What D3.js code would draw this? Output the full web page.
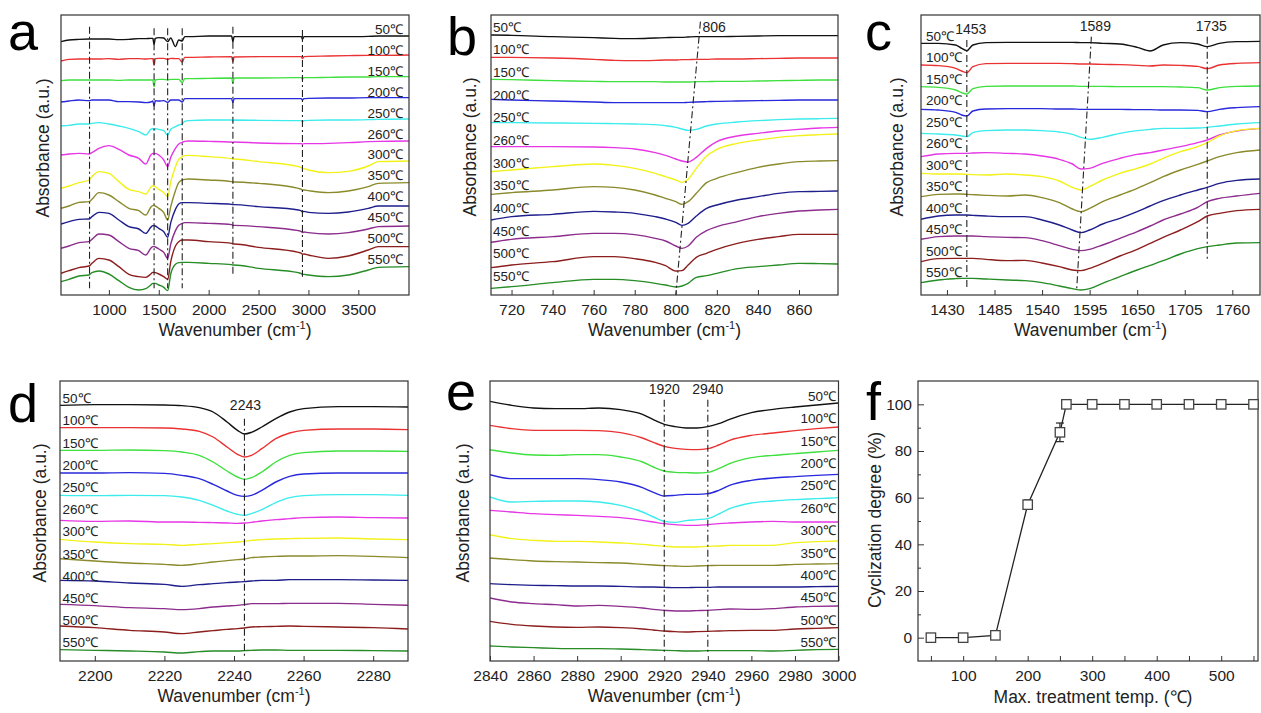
<!DOCTYPE html>
<html>
<head>
<meta charset="utf-8">
<script src="https://cdn.jsdelivr.net/npm/d3@7"></script>
<style>
  html, body { margin: 0; padding: 0; background: #fff; }
  svg { display: block; font-family: Arial, 'Liberation Sans', sans-serif; }
</style>
</head>
<body>
<svg id="chart" width="1261" height="713"></svg>
<script>
// ---- data ----
var temps = ['50℃', '100℃', '150℃', '200℃', '250℃', '260℃', '300℃', '350℃', '400℃', '450℃', '500℃', '550℃'];
var colors = ['#111111', '#ea3232', '#3ee03e', '#2828dc', '#3cecec', '#e636e6', '#f2f21a', '#8a8a2c', '#1e1e8c', '#8c2c8c', '#8c1e1e', '#268c26'];

// panel a : full spectra (absorbance, a.u., offset stacked)
var wnA = [520, 600, 700, 800, 830, 900, 1000, 1100, 1200, 1300, 1370, 1420, 1440, 1453, 1465, 1500, 1550, 1589, 1620, 1667, 1700, 1735, 1760, 1800, 2000, 2230, 2243, 2255, 2500, 2900, 2930, 2940, 2955, 3000, 3200, 3400, 3600, 3700, 4008];
var absA = [
  [775,780,782,783,783,783,783,781,782,784,784,785,785,767,785,787,786,775,786,760,780,777,790,790,792,792,775,790,790,790,790,782,790,790,790,790,791,792,792],
  [717,722,723,723,723,723,724,722,724,724,723,724,724,705,724,725,725,722,725,724,724,714,728,728,729,730,715,729,730,730,730,724,730,731,732,733,734,734,735],
  [658,660,660,660,660,660,660,659,660,660,660,660,660,640,660,662,662,660,662,662,662,652,664,664,665,666,650,666,666,667,667,662,667,667,668,669,669,670,670],
  [594,597,600,598,600,600,600,595,595,594,592,594,597,582,598,597,598,593,600,600,600,594,604,604,604,604,592,604,604,604,604,600,604,605,606,606,607,607,607],
  [522,524,528,528,530,532,528,522,515,505,495,512,515,508,514,512,508,495,512,520,525,528,536,538,540,540,536,540,539,538,538,534,538,539,540,540,541,542,543],
  [435,438,440,438,442,455,463,452,435,425,408,435,440,438,440,435,420,400,428,455,468,473,476,477,476,474,472,474,471,469,469,467,469,469,470,472,475,476,477],
  [335,342,352,360,370,385,380,355,332,325,318,338,342,342,340,332,322,310,355,400,422,430,433,434,430,424,422,423,415,400,397,394,394,390,382,386,402,415,417],
  [275,282,293,295,302,322,315,295,275,268,255,278,283,283,282,275,262,240,280,328,352,360,362,363,360,355,354,354,350,335,332,330,330,328,322,327,340,350,352],
  [228,235,242,243,250,263,260,240,220,213,200,218,223,223,222,215,205,188,232,272,288,292,292,292,290,287,286,286,280,270,267,264,266,263,260,264,275,282,282],
  [155,162,172,175,182,198,195,175,155,148,135,155,160,160,159,153,143,125,168,208,224,230,232,232,230,226,224,224,220,208,205,202,204,202,198,202,213,220,222],
  [80,88,97,102,110,125,120,100,77,70,68,78,83,83,82,78,70,62,115,162,175,180,180,180,175,170,168,168,158,143,140,137,138,135,125,132,150,160,160],
  [55,62,72,75,82,87,78,58,38,30,34,45,50,50,50,45,38,28,78,107,112,113,113,113,110,106,105,105,95,82,79,77,77,75,70,75,90,98,100]
];

// panel b : 710-879 cm-1
var wnB = [710, 720, 740, 760, 770, 780, 790, 795, 800, 803, 806, 810, 815, 820, 830, 840, 850, 860, 870, 879];
var absB = [
  [795,794,790,787,785,784,786,787,788,788,789,790,790,790,791,792,793,793,793,793],
  [728,728,726,722,719,718,719,720,720,721,721,722,722,723,723,724,725,726,726,726],
  [662,661,658,656,655,655,655,654,654,654,654,655,655,656,656,657,658,659,660,660],
  [602,600,597,594,592,592,592,592,592,592,593,594,595,596,597,598,599,600,600,600],
  [532,532,531,530,529,528,526,523,518,513,509,512,522,528,534,538,541,543,544,545],
  [460,460,460,459,457,453,442,434,423,417,414,428,455,475,492,500,507,512,516,518],
  [385,390,400,408,404,395,380,370,360,353,362,395,432,452,470,480,488,493,496,498],
  [317,322,330,340,338,330,315,305,295,287,295,320,352,365,383,398,408,415,417,418],
  [240,250,257,266,264,260,250,243,233,224,230,252,275,285,300,310,320,325,326,327],
  [173,182,190,200,200,196,185,177,162,155,162,188,208,220,235,250,260,267,270,272],
  [97,105,115,130,130,124,113,103,87,88,105,128,140,152,170,182,190,197,197,197],
  [35,40,52,62,62,58,50,45,39,42,50,68,73,80,94,100,105,110,109,108]
];

// panel c : 1400-1792 cm-1
var wnC = [1400, 1420, 1440, 1447, 1453, 1460, 1475, 1500, 1520, 1540, 1560, 1575, 1585, 1595, 1610, 1630, 1650, 1665, 1680, 1700, 1720, 1731, 1745, 1765, 1792];
var absC = [
  [770,770,765,755,748,765,772,773,773,773,773,773,772,772,770,768,758,747,765,772,768,760,770,775,776],
  [705,703,695,687,682,700,709,710,710,710,710,709,708,708,707,706,704,702,705,704,701,694,705,710,712],
  [640,638,630,622,618,634,641,642,642,642,642,642,641,641,641,640,640,640,640,639,637,630,637,641,642],
  [572,570,563,555,552,567,573,574,574,574,573,573,572,572,572,572,571,571,570,570,569,565,572,577,580],
  [500,498,495,492,490,502,508,510,510,508,504,497,488,482,488,500,508,512,515,515,516,518,522,528,532],
  [430,438,440,440,440,441,442,440,438,432,422,408,393,395,410,425,437,442,450,460,472,480,495,507,515],
  [380,378,378,378,377,376,375,378,375,370,357,338,330,340,360,380,395,408,425,445,460,472,492,508,515],
  [310,317,318,318,317,316,314,312,315,307,292,273,265,275,295,315,335,352,370,390,407,417,430,442,450],
  [242,252,255,255,255,254,252,250,250,240,225,210,202,210,228,245,265,282,298,315,330,338,350,359,363],
  [182,190,192,192,192,192,190,188,187,178,163,152,148,152,165,185,205,222,240,258,278,295,305,312,320],
  [115,124,125,125,125,125,122,118,119,111,100,90,88,95,110,132,152,170,188,210,235,252,260,268,272],
  [52,60,64,65,65,65,63,60,58,52,42,34,30,34,50,70,90,104,118,138,154,160,165,171,172]
];

// panel d : 2190-2290 cm-1
var wnD = [2190, 2200, 2210, 2220, 2225, 2230, 2234, 2238, 2241, 2243, 2245, 2248, 2252, 2256, 2260, 2270, 2280, 2290];
var absD = [
  [782,784,784,783,781,775,762,732,707,696,701,717,742,762,772,778,778,777],
  [715,715,715,714,711,704,687,657,635,627,632,652,682,699,707,711,711,709],
  [647,647,648,646,642,632,612,585,567,560,565,582,612,632,640,645,645,644],
  [579,579,580,578,572,562,545,525,512,509,512,527,552,569,576,579,579,579],
  [512,511,512,511,507,497,482,465,455,452,457,469,490,505,511,514,514,512],
  [437,434,435,432,432,431,430,429,428,429,431,435,439,442,445,447,445,444],
  [380,372,367,365,362,365,367,370,372,374,377,379,381,382,383,384,381,379],
  [322,315,309,305,302,307,312,316,319,321,325,327,329,330,330,331,329,325],
  [257,255,249,245,239,244,247,250,252,253,255,257,257,259,259,259,258,257],
  [185,181,175,172,169,172,177,180,182,184,187,187,187,188,188,188,185,182],
  [120,115,107,102,97,102,106,110,112,114,117,118,119,120,119,117,115,111],
  [49,47,45,42,39,43,45,45,45,46,47,48,48,47,47,47,46,45]
];

// panel e : 2840-3000 cm-1
var wnE = [2840, 2850, 2860, 2870, 2880, 2890, 2900, 2910, 2915, 2920, 2925, 2930, 2935, 2940, 2945, 2950, 2960, 2970, 2980, 2990, 3000];
var absE = [
  [794,782,774,772,772,774,769,755,739,725,718,714,714,718,727,740,760,770,777,783,789],
  [722,712,707,707,707,706,700,684,671,659,653,650,649,652,663,677,692,699,706,712,717],
  [649,639,633,632,634,634,627,612,597,585,581,580,579,581,592,607,625,632,637,642,647],
  [574,562,562,562,562,559,552,535,521,510,512,515,515,517,527,542,557,564,568,572,575],
  [507,492,494,495,495,492,482,462,447,434,431,436,439,442,456,472,489,495,499,502,505],
  [467,462,457,454,452,449,445,437,432,427,424,422,422,424,427,429,432,434,432,432,432],
  [394,382,377,374,374,372,369,365,362,359,357,357,357,359,360,362,362,362,370,373,375],
  [324,319,315,313,312,310,309,305,303,301,300,299,300,301,302,302,302,302,305,306,307],
  [247,244,242,241,240,240,239,237,237,236,235,235,236,236,237,237,237,237,237,238,239],
  [204,192,187,184,180,182,179,174,170,167,165,165,166,167,169,171,170,172,177,179,180],
  [134,125,120,117,116,117,115,111,108,105,103,102,103,104,105,106,107,107,111,113,115],
  [60,57,55,53,52,52,51,49,48,47,46,45,45,46,46,46,46,45,47,49,50]
];

// peak guide lines: [wavenumber at top, wavenumber at bottom, abs top, abs bottom, label]
var peaksA = [[806,806,820,35,''],[1453,1453,815,35,''],[1589,1589,815,35,''],[1735,1735,815,35,''],[2243,2243,820,70,''],[2940,2940,810,70,'']];
var peaksB = [[812,800,835,15,'806']];
var peaksC = [[1453,1453,780,30,'1453'],[1597,1580,790,30,'1589'],[1731,1731,790,120,'1735']];
var peaksD = [[2243,2243,742,22,'2243']];
var peaksE = [[2920,2920,799,42,'1920'],[2940,2940,799,42,'2940']];

// panel f : cyclization degree
var treatTemp = [50, 100, 150, 200, 250, 260, 300, 350, 400, 450, 500, 550];
var cycDegree = [0, 0, 1, 57, 88, 100, 100, 100, 100, 100, 100, 100];
var cycError = [0, 0, 0, 2, 4, 1, 0, 0, 0, 0, 0, 0];

// ---- drawing ----
var svg = d3.select('#chart');
var ink = '#333';

function xTitle(g, cx, y) {
  var t = g.append('text')
    .attr('x', cx).attr('y', y)
    .attr('text-anchor', 'middle')
    .attr('font-size', 17.5)
    .attr('fill', '#222');
  t.append('tspan').text('Wavenumber (cm');
  t.append('tspan').attr('dy', -7).attr('font-size', 11).text('-1');
  t.append('tspan').attr('dy', 7).text(')');
}

function yTitle(g, x, cy, label) {
  g.append('text')
    .attr('transform', 'translate(' + x + ',' + cy + ') rotate(-90)')
    .attr('text-anchor', 'middle')
    .attr('dy', '0.35em')
    .attr('font-size', 17.5)
    .attr('fill', '#222')
    .text(label);
}

function letter(g, ch, x, y) {
  g.append('text').attr('x', x).attr('y', y)
    .attr('font-size', 54).attr('fill', '#000')
    .text(ch);
}

function drawSpectra(p, idx) {
  var x = d3.scaleLinear().domain(p.xDomain).range([p.left, p.right]);
  var y = d3.scaleLinear().domain([15, 855]).range([p.bottom, p.top]);
  var g = svg.append('g');

  g.append('clipPath').attr('id', 'clip' + idx)
    .append('rect')
    .attr('x', p.left).attr('y', p.top)
    .attr('width', p.right - p.left).attr('height', p.bottom - p.top);

  var line = d3.line()
    .x(function(d, i) { return x(p.wn[i]); })
    .y(function(d) { return y(d); })
    .curve(d3.curveMonotoneX);

  g.append('g').attr('clip-path', 'url(#clip' + idx + ')')
    .selectAll('path')
    .data(p.abs)
    .enter()
    .append('path')
      .attr('d', line)
      .attr('fill', 'none')
      .attr('stroke', function(d, i) { return colors[i]; })
      .attr('stroke-width', 1.4);

  // guide lines
  g.selectAll('line.peak')
    .data(p.peaks)
    .enter()
    .append('line')
      .attr('x1', function(d) { return x(d[0]); })
      .attr('x2', function(d) { return x(d[1]); })
      .attr('y1', function(d) { return y(d[2]); })
      .attr('y2', function(d) { return y(d[3]); })
      .attr('stroke', '#222')
      .attr('stroke-width', 1.1)
      .attr('stroke-dasharray', '7,3,2,3');

  g.selectAll('text.peak')
    .data(p.peaks.filter(function(d) { return d[4]; }))
    .enter()
    .append('text')
      .attr('x', function(d) { return x(d[0]) + p.peakDx; })
      .attr('y', function(d) { return y(d[2]) - p.peakDy; })
      .attr('text-anchor', p.peakAnchor)
      .attr('font-size', 14)
      .attr('fill', '#222')
      .text(function(d) { return d[4]; });

  // series labels
  g.selectAll('text.lab')
    .data(temps)
    .enter()
    .append('text')
      .attr('x', p.labelX)
      .attr('y', function(d, i) { return p.labelY0 + i * p.labelStep + 5; })
      .attr('text-anchor', p.labelAnchor)
      .attr('font-size', 13.5)
      .attr('fill', '#222')
      .text(function(d) { return d; });

  // frame + axis
  g.append('rect')
    .attr('x', p.left).attr('y', p.top)
    .attr('width', p.right - p.left).attr('height', p.bottom - p.top)
    .attr('fill', 'none').attr('stroke', ink).attr('stroke-width', 1.2);

  var ax = g.append('g')
    .attr('transform', 'translate(0,' + p.bottom + ')')
    .call(d3.axisBottom(x).tickValues(p.ticks).tickFormat(d3.format('d')).tickSize(-5).tickPadding(9));
  ax.select('.domain').remove();
  ax.selectAll('line').attr('stroke', ink);
  ax.selectAll('text').attr('font-size', 15.5).attr('fill', '#222').attr('font-family', null);

  xTitle(g, (p.left + p.right) / 2, p.bottom + 41);
  yTitle(g, p.yTitleX, p.yTitleY, 'Absorbance (a.u.)');
  letter(g, p.letter, p.letterX, p.letterY);
}

var panels = [
  { wn: wnA, abs: absA, peaks: peaksA, xDomain: [520, 4008], left: 61, right: 409, top: 15, bottom: 295,
    ticks: [1000, 1500, 2000, 2500, 3000, 3500], labelAnchor: 'end', labelX: 403, labelY0: 29, labelStep: 20.9,
    peakDx: 0, peakDy: 4, peakAnchor: 'middle', yTitleX: 43, yTitleY: 148, letter: 'a', letterX: 8, letterY: 49.5 },
  { wn: wnB, abs: absB, peaks: peaksB, xDomain: [710, 879], left: 491, right: 838, top: 15, bottom: 295,
    ticks: [720, 740, 760, 780, 800, 820, 840, 860], labelAnchor: 'start', labelX: 493, labelY0: 26.7, labelStep: 22.66,
    peakDx: 2, peakDy: -10, peakAnchor: 'start', yTitleX: 470, yTitleY: 147, letter: 'b', letterX: 447, letterY: 55 },
  { wn: wnC, abs: absC, peaks: peaksC, xDomain: [1400, 1792], left: 921, right: 1260, top: 15, bottom: 295,
    ticks: [1430, 1485, 1540, 1595, 1650, 1705, 1760], labelAnchor: 'start', labelX: 926, labelY0: 36, labelStep: 21.48,
    peakDx: 4, peakDy: 6, peakAnchor: 'middle', yTitleX: 897, yTitleY: 147, letter: 'c', letterX: 865, letterY: 49.5 },
  { wn: wnD, abs: absD, peaks: peaksD, xDomain: [2190, 2290], left: 60, right: 408, top: 381, bottom: 661,
    ticks: [2200, 2220, 2240, 2260, 2280], labelAnchor: 'start', labelX: 62.5, labelY0: 398.3, labelStep: 22.18,
    peakDx: 1, peakDy: 9, peakAnchor: 'middle', yTitleX: 40, yTitleY: 513, letter: 'd', letterX: 8, letterY: 422 },
  { wn: wnE, abs: absE, peaks: peaksE, xDomain: [2840, 3000], left: 490, right: 838.5, top: 381, bottom: 661,
    ticks: [2840, 2860, 2880, 2900, 2920, 2940, 2960, 2980, 3000], labelAnchor: 'end', labelX: 836, labelY0: 396, labelStep: 22.36,
    peakDx: 0, peakDy: 6, peakAnchor: 'middle', yTitleX: 463, yTitleY: 513, letter: 'e', letterX: 446, letterY: 410 }
];

panels.forEach(function(p, i) { drawSpectra(p, i); });

// ---- panel f ----
var fx = d3.scaleLinear().domain([30, 557]).range([918, 1258]);
var fy = d3.scaleLinear().domain([-10, 110]).range([661, 381]);
var gf = svg.append('g');

gf.append('rect')
  .attr('x', 918).attr('y', 381).attr('width', 340).attr('height', 280)
  .attr('fill', 'none').attr('stroke', ink).attr('stroke-width', 1.2);

var bx = gf.append('g').attr('transform', 'translate(0,661)')
  .call(d3.axisBottom(fx).tickValues(d3.range(50, 551, 50)).tickSize(-5).tickPadding(9)
    .tickFormat(function(d) { return d % 100 === 0 ? d : ''; }));
bx.select('.domain').remove();
bx.selectAll('line').attr('stroke', ink);
bx.selectAll('text').attr('font-size', 15.5).attr('fill', '#222').attr('font-family', null);

var ly = gf.append('g').attr('transform', 'translate(918,0)')
  .call(d3.axisLeft(fy).tickValues(d3.range(0, 101, 10)).tickSize(-5).tickPadding(6)
    .tickFormat(function(d) { return d % 20 === 0 ? d : ''; }));
ly.select('.domain').remove();
ly.selectAll('line').attr('stroke', ink)
  .attr('x2', function(d) { return d % 20 === 0 ? 6 : 3; });
ly.selectAll('text').attr('font-size', 15.5).attr('fill', '#222').attr('font-family', null);

gf.append('path')
  .datum(cycDegree)
  .attr('d', d3.line().x(function(d, i) { return fx(treatTemp[i]); }).y(function(d) { return fy(d); }))
  .attr('fill', 'none').attr('stroke', '#222').attr('stroke-width', 1.3);

var err = gf.selectAll('g.err')
  .data(cycDegree.map(function(d, i) { return [treatTemp[i], d, cycError[i]]; }).filter(function(d) { return d[2] > 0; }))
  .enter().append('g');
err.append('line')
  .attr('x1', function(d) { return fx(d[0]); }).attr('x2', function(d) { return fx(d[0]); })
  .attr('y1', function(d) { return fy(d[1] - d[2]); }).attr('y2', function(d) { return fy(d[1] + d[2]); })
  .attr('stroke', '#222').attr('stroke-width', 1.2);
[-1, 1].forEach(function(s) {
  err.append('line')
    .attr('x1', function(d) { return fx(d[0]) - 4; }).attr('x2', function(d) { return fx(d[0]) + 4; })
    .attr('y1', function(d) { return fy(d[1] + s * d[2]); }).attr('y2', function(d) { return fy(d[1] + s * d[2]); })
    .attr('stroke', '#222').attr('stroke-width', 1.2);
});

gf.selectAll('rect.mk')
  .data(cycDegree)
  .enter()
  .append('rect')
    .attr('x', function(d, i) { return fx(treatTemp[i]) - 4.7; })
    .attr('y', function(d) { return fy(d) - 4.7; })
    .attr('width', 9.4).attr('height', 9.4)
    .attr('fill', '#fff').attr('stroke', '#444').attr('stroke-width', 1.3);

gf.append('text')
  .attr('x', 1093).attr('y', 703)
  .attr('text-anchor', 'middle').attr('font-size', 17.5).attr('fill', '#222')
  .text('Max. treatment temp. (℃)');
yTitle(gf, 875, 520, 'Cyclization degree (%)');
letter(gf, 'f', 866, 420);
</script>
</body>
</html>
